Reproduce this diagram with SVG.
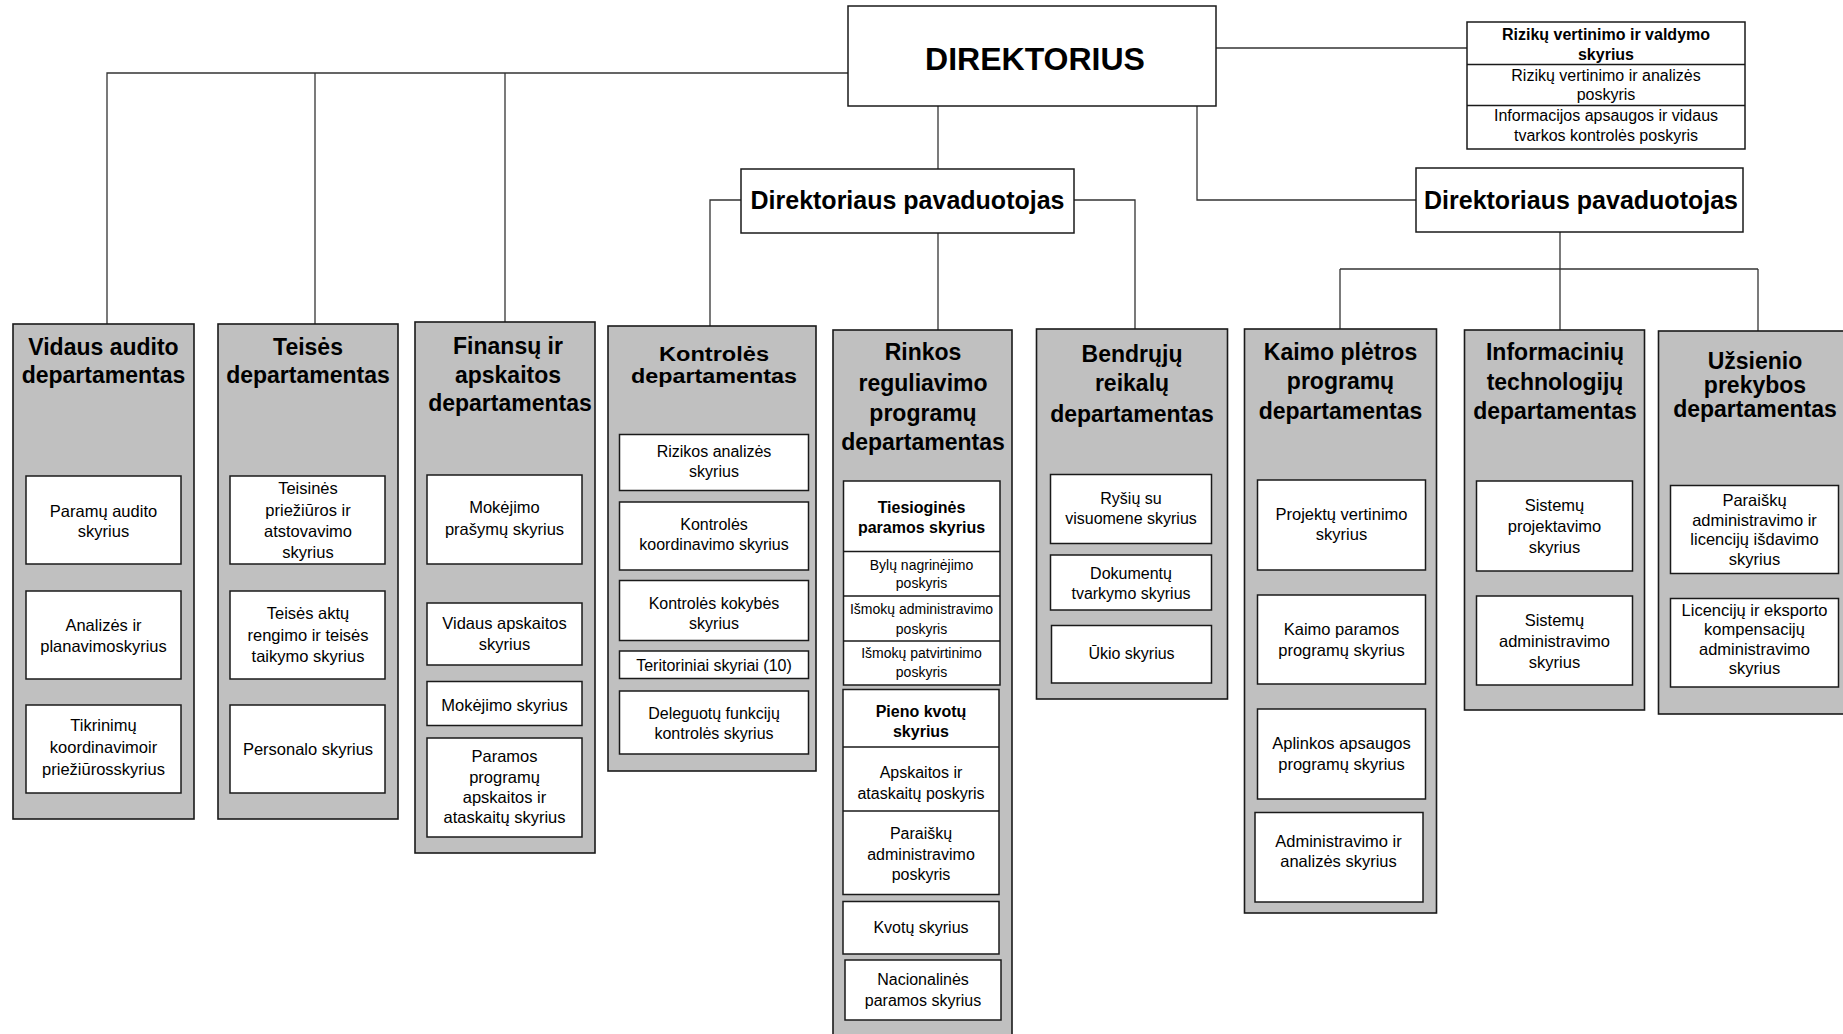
<svg xmlns="http://www.w3.org/2000/svg" width="1843" height="1034" viewBox="0 0 1843 1034">
<style>
.bg{fill:#fff}
.dept{fill:#c0c0c0;stroke:#1a1a1a;stroke-width:1.6}
.box{fill:#fff;stroke:#1a1a1a;stroke-width:1.5}
.div{stroke:#1a1a1a;stroke-width:1.4;fill:none}
.conn path{stroke:#333;stroke-width:1.3;fill:none}
text{font-family:"Liberation Sans",Arial,Helvetica,sans-serif;text-anchor:middle;fill:#000}
.dir{font-size:32px;font-weight:bold}
.dep{font-size:25px;font-weight:bold}
.ttl{font-size:23px;font-weight:bold}
.ttl2{font-size:20px;font-weight:bold}
.n{font-size:16.5px}
.m{font-size:16px}
.mb{font-size:16px;font-weight:bold}
.sm{font-size:14px}
</style>
<rect class="bg" x="0" y="0" width="1843" height="1034"/>

<g id="connectors" class="conn">
<path d="M848,73 H107 V324"/>
<path d="M315,73 V324"/>
<path d="M505,73 V322"/>
<path d="M1216,48 H1467"/>
<path d="M938,106 V169"/>
<path d="M938,233 V330"/>
<path d="M1197,106 V200 H1416"/>
<path d="M741,200 H710 V326"/>
<path d="M1074,200 H1135 V329"/>
<path d="M1560,232 V330"/>
<path d="M1340,269 H1758"/>
<path d="M1340,269 V329"/>
<path d="M1758,269 V331"/>
</g>

<g id="direktorius">
<rect class="box" x="848" y="6" width="368" height="100"/>
<text class="dir" x="1035" y="70">DIREKTORIUS</text>
</g>

<g id="rizikos">
<rect class="box" x="1467" y="22" width="278" height="127"/>
<path class="div" d="M1467,64.5 H1745 M1467,105.5 H1745"/>
<text class="mb" x="1606"><tspan x="1606" y="39.5">Rizikų vertinimo ir valdymo</tspan><tspan x="1606" y="59.5">skyrius</tspan></text>
<text class="m" x="1606"><tspan x="1606" y="80.5">Rizikų vertinimo ir analizės</tspan><tspan x="1606" y="100">poskyris</tspan></text>
<text class="m" x="1606"><tspan x="1606" y="121">Informacijos apsaugos ir vidaus</tspan><tspan x="1606" y="140.5">tvarkos kontrolės poskyris</tspan></text>
</g>

<g id="pavaduotojas1">
<rect class="box" x="741" y="169" width="333" height="64"/>
<text class="dep" x="907.5" y="209">Direktoriaus pavaduotojas</text>
</g>

<g id="pavaduotojas2">
<rect class="box" x="1416" y="168" width="327" height="64"/>
<text class="dep" x="1581" y="208.5">Direktoriaus pavaduotojas</text>
</g>

<g id="vidaus-audito">
<rect class="dept" x="13" y="324" width="181" height="495"/>
<text class="ttl"><tspan x="103.5" y="354.5">Vidaus audito</tspan><tspan x="103.5" y="382.5">departamentas</tspan></text>
<rect class="box" x="26" y="476" width="155" height="88"/>
<text class="n"><tspan x="103.5" y="516.5">Paramų audito</tspan><tspan x="103.5" y="536.5">skyrius</tspan></text>
<rect class="box" x="26" y="591" width="155" height="88"/>
<text class="n"><tspan x="103.5" y="631">Analizės ir</tspan><tspan x="103.5" y="651.5">planavimoskyrius</tspan></text>
<rect class="box" x="26" y="705" width="155" height="88"/>
<text class="n"><tspan x="103.5" y="731">Tikrinimų</tspan><tspan x="103.5" y="753">koordinavimoir</tspan><tspan x="103.5" y="775">priežiūrosskyrius</tspan></text>
</g>

<g id="teises">
<rect class="dept" x="218" y="324" width="180" height="495"/>
<text class="ttl"><tspan x="308" y="354.5">Teisės</tspan><tspan x="308" y="382.5">departamentas</tspan></text>
<rect class="box" x="230" y="476" width="155" height="88"/>
<text class="n"><tspan x="308" y="494">Teisinės</tspan><tspan x="308" y="515.5">priežiūros ir</tspan><tspan x="308" y="537">atstovavimo</tspan><tspan x="308" y="558">skyrius</tspan></text>
<rect class="box" x="230" y="591" width="155" height="88"/>
<text class="n"><tspan x="308" y="619">Teisės aktų</tspan><tspan x="308" y="640.5">rengimo ir teisės</tspan><tspan x="308" y="661.5">taikymo skyrius</tspan></text>
<rect class="box" x="230" y="705" width="155" height="88"/>
<text class="n" x="308" y="755">Personalo skyrius</text>
</g>

<g id="finansu">
<rect class="dept" x="415" y="322" width="180" height="531"/>
<text class="ttl"><tspan x="508" y="353.5">Finansų ir</tspan><tspan x="508" y="382.5">apskaitos</tspan><tspan x="510" y="411">departamentas</tspan></text>
<rect class="box" x="427" y="475" width="155" height="89"/>
<text class="n"><tspan x="504.5" y="512.5">Mokėjimo</tspan><tspan x="504.5" y="535">prašymų skyrius</tspan></text>
<rect class="box" x="427" y="603" width="155" height="62"/>
<text class="n"><tspan x="504.5" y="629">Vidaus apskaitos</tspan><tspan x="504.5" y="650">skyrius</tspan></text>
<rect class="box" x="427" y="681.5" width="155" height="44"/>
<text class="n" x="504.5" y="710.5">Mokėjimo skyrius</text>
<rect class="box" x="427" y="738" width="155" height="99"/>
<text class="n"><tspan x="504.5" y="762">Paramos</tspan><tspan x="504.5" y="782.5">programų</tspan><tspan x="504.5" y="803">apskaitos ir</tspan><tspan x="504.5" y="823">ataskaitų skyrius</tspan></text>
</g>

<g id="kontroles">
<rect class="dept" x="608" y="326" width="208" height="445"/>
<text class="ttl2" x="714" y="360.5" textLength="110" lengthAdjust="spacingAndGlyphs">Kontrolės</text>
<text class="ttl2" x="714" y="382.5" textLength="166" lengthAdjust="spacingAndGlyphs">departamentas</text>
<rect class="box" x="619.5" y="434.5" width="189" height="56"/>
<text class="m"><tspan x="714" y="457">Rizikos analizės</tspan><tspan x="714" y="477">skyrius</tspan></text>
<rect class="box" x="619.5" y="502" width="189" height="68"/>
<text class="m"><tspan x="714" y="529.5">Kontrolės</tspan><tspan x="714" y="549.5">koordinavimo skyrius</tspan></text>
<rect class="box" x="619.5" y="580.5" width="189" height="60"/>
<text class="m"><tspan x="714" y="609">Kontrolės kokybės</tspan><tspan x="714" y="629">skyrius</tspan></text>
<rect class="box" x="619.5" y="651" width="189" height="27.5"/>
<text class="m" x="714" y="670.5">Teritoriniai skyriai (10)</text>
<rect class="box" x="619.5" y="691" width="189" height="63"/>
<text class="m"><tspan x="714" y="718.5">Deleguotų funkcijų</tspan><tspan x="714" y="739">kontrolės skyrius</tspan></text>
</g>

<g id="rinkos">
<rect class="dept" x="833" y="330" width="179" height="720"/>
<text class="ttl"><tspan x="923" y="360">Rinkos</tspan><tspan x="923" y="390.5">reguliavimo</tspan><tspan x="923" y="420.5">programų</tspan><tspan x="923" y="450">departamentas</tspan></text>
<rect class="box" x="843.5" y="481" width="156.5" height="204"/>
<path class="div" d="M843.5,551.5 H1000 M843.5,596 H1000 M843.5,641 H1000"/>
<text class="mb"><tspan x="921.5" y="512.5">Tiesioginės</tspan><tspan x="921.5" y="533">paramos skyrius</tspan></text>
<text class="sm"><tspan x="921.5" y="569.5">Bylų nagrinėjimo</tspan><tspan x="921.5" y="588">poskyris</tspan></text>
<text class="sm"><tspan x="921.5" y="614">Išmokų administravimo</tspan><tspan x="921.5" y="633.5">poskyris</tspan></text>
<text class="sm"><tspan x="921.5" y="658">Išmokų patvirtinimo</tspan><tspan x="921.5" y="677">poskyris</tspan></text>
<rect class="box" x="843" y="689.5" width="156" height="205"/>
<path class="div" d="M843,747 H999 M843,811 H999"/>
<text class="mb"><tspan x="921" y="716.5">Pieno kvotų</tspan><tspan x="921" y="737">skyrius</tspan></text>
<text class="m"><tspan x="921" y="778">Apskaitos ir</tspan><tspan x="921" y="798.5">ataskaitų poskyris</tspan></text>
<text class="m"><tspan x="921" y="839">Paraiškų</tspan><tspan x="921" y="859.5">administravimo</tspan><tspan x="921" y="879.5">poskyris</tspan></text>
<rect class="box" x="843" y="901.5" width="156" height="52.5"/>
<text class="m" x="921" y="932.5">Kvotų skyrius</text>
<rect class="box" x="845" y="960" width="156" height="60"/>
<text class="m"><tspan x="923" y="985">Nacionalinės</tspan><tspan x="923" y="1005.5">paramos skyrius</tspan></text>
</g>

<g id="bendruju">
<rect class="dept" x="1036.5" y="329" width="191" height="370"/>
<text class="ttl"><tspan x="1132" y="362">Bendrųjų</tspan><tspan x="1132" y="391">reikalų</tspan><tspan x="1132" y="421.5">departamentas</tspan></text>
<rect class="box" x="1050.5" y="474.5" width="161" height="69"/>
<text class="m"><tspan x="1131" y="504">Ryšių su</tspan><tspan x="1131" y="524">visuomene skyrius</tspan></text>
<rect class="box" x="1050.5" y="555" width="161" height="55"/>
<text class="m"><tspan x="1131" y="578.5">Dokumentų</tspan><tspan x="1131" y="598.5">tvarkymo skyrius</tspan></text>
<rect class="box" x="1051.5" y="625.5" width="160" height="57.5"/>
<text class="m" x="1131.5" y="658.5">Ūkio skyrius</text>
</g>

<g id="kaimo">
<rect class="dept" x="1244.5" y="329" width="192" height="584"/>
<text class="ttl"><tspan x="1340.5" y="359.5">Kaimo plėtros</tspan><tspan x="1340.5" y="389">programų</tspan><tspan x="1340.5" y="419">departamentas</tspan></text>
<rect class="box" x="1257.5" y="480" width="168" height="90"/>
<text class="n"><tspan x="1341.5" y="520">Projektų vertinimo</tspan><tspan x="1341.5" y="540">skyrius</tspan></text>
<rect class="box" x="1257.5" y="595" width="168" height="89"/>
<text class="n"><tspan x="1341.5" y="635">Kaimo paramos</tspan><tspan x="1341.5" y="655.5">programų skyrius</tspan></text>
<rect class="box" x="1257.5" y="709" width="168" height="90"/>
<text class="n"><tspan x="1341.5" y="749">Aplinkos apsaugos</tspan><tspan x="1341.5" y="769.5">programų skyrius</tspan></text>
<rect class="box" x="1255" y="812.5" width="168" height="89.5"/>
<text class="n"><tspan x="1338.5" y="846.5">Administravimo ir</tspan><tspan x="1338.5" y="866.5">analizės skyrius</tspan></text>
</g>

<g id="informaciniu">
<rect class="dept" x="1464.5" y="330" width="180" height="380"/>
<text class="ttl"><tspan x="1555" y="359.5">Informacinių</tspan><tspan x="1555" y="389.5">technologijų</tspan><tspan x="1555" y="419">departamentas</tspan></text>
<rect class="box" x="1476.5" y="481" width="156" height="90"/>
<text class="n"><tspan x="1554.5" y="510.5">Sistemų</tspan><tspan x="1554.5" y="532">projektavimo</tspan><tspan x="1554.5" y="553">skyrius</tspan></text>
<rect class="box" x="1476.5" y="596" width="156" height="89"/>
<text class="n"><tspan x="1554.5" y="625.5">Sistemų</tspan><tspan x="1554.5" y="646.5">administravimo</tspan><tspan x="1554.5" y="667.5">skyrius</tspan></text>
</g>

<g id="uzsienio">
<rect class="dept" x="1658.5" y="331" width="195" height="383"/>
<text class="ttl"><tspan x="1755" y="368.5">Užsienio</tspan><tspan x="1755" y="392.5">prekybos</tspan><tspan x="1755" y="416.5">departamentas</tspan></text>
<rect class="box" x="1670.5" y="485.5" width="168" height="88"/>
<text class="n"><tspan x="1754.5" y="506">Paraiškų</tspan><tspan x="1754.5" y="525.5">administravimo ir</tspan><tspan x="1754.5" y="545">licencijų išdavimo</tspan><tspan x="1754.5" y="564.5">skyrius</tspan></text>
<rect class="box" x="1670.5" y="598.5" width="168" height="88.5"/>
<text class="n"><tspan x="1754.5" y="616">Licencijų ir eksporto</tspan><tspan x="1754.5" y="635">kompensacijų</tspan><tspan x="1754.5" y="655">administravimo</tspan><tspan x="1754.5" y="674">skyrius</tspan></text>
</g>
</svg>
